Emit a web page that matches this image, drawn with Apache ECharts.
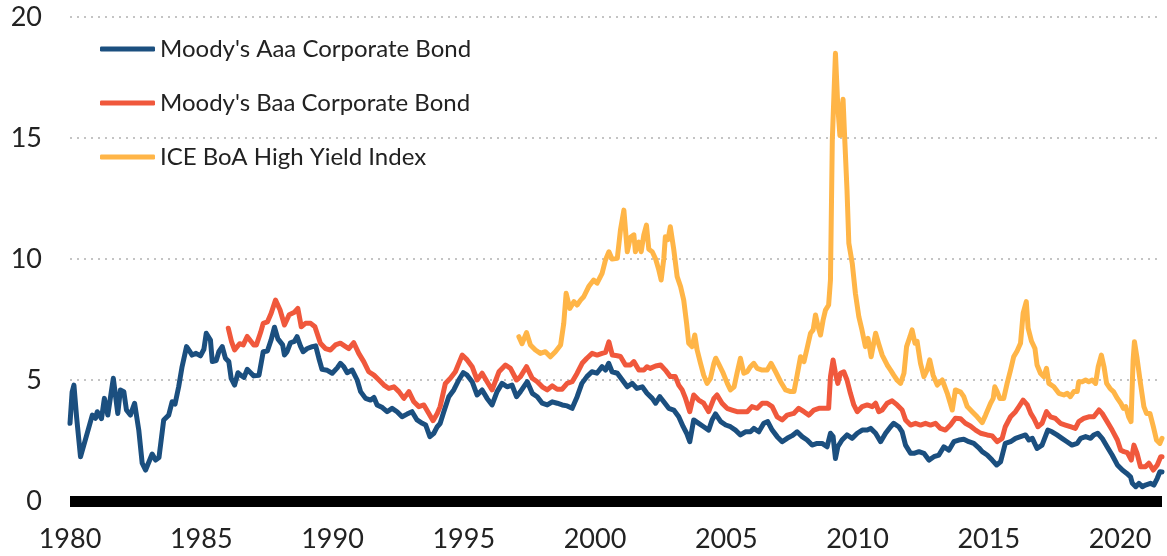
<!DOCTYPE html>
<html>
<head>
<meta charset="utf-8">
<script src="https://cdn.jsdelivr.net/npm/echarts@6/dist/echarts.min.js"></script>
<style>
html,body{margin:0;padding:0;background:#fff;}
#chart{width:1167px;height:556px;}
</style>
</head>
<body>
<div id="chart"></div>
<script>
const seriesNames = ["Moody's Aaa Corporate Bond", "Moody's Baa Corporate Bond", "ICE BoA High Yield Index"];
const xTickYears = [1980, 1985, 1990, 1995, 2000, 2005, 2010, 2015, 2020];
const yTicks = [0, 5, 10, 15, 20];

const aaaYears = [1980.0,1980.08,1980.15,1980.25,1980.4,1980.6,1980.85,1980.97,1981.04,1981.2,1981.31,1981.44,1981.65,1981.82,1981.92,1982.05,1982.15,1982.3,1982.46,1982.62,1982.75,1982.88,1983.13,1983.26,1983.39,1983.57,1983.76,1983.89,1984.0,1984.14,1984.27,1984.44,1984.55,1984.65,1984.8,1984.97,1985.1,1985.19,1985.35,1985.42,1985.57,1985.67,1985.8,1985.92,1986.05,1986.14,1986.27,1986.4,1986.5,1986.63,1986.75,1986.88,1987.0,1987.2,1987.36,1987.52,1987.66,1987.79,1987.92,1988.1,1988.17,1988.27,1988.4,1988.55,1988.65,1988.78,1988.88,1989.04,1989.23,1989.36,1989.48,1989.6,1989.8,1989.99,1990.18,1990.3,1990.43,1990.56,1990.75,1990.94,1991.07,1991.26,1991.45,1991.58,1991.7,1991.9,1992.08,1992.27,1992.46,1992.65,1992.84,1993.03,1993.22,1993.42,1993.55,1993.71,1993.86,1993.99,1994.1,1994.24,1994.43,1994.62,1994.81,1994.98,1995.13,1995.32,1995.51,1995.7,1995.89,1996.08,1996.27,1996.46,1996.65,1996.84,1997.01,1997.16,1997.42,1997.61,1997.8,1997.99,1998.18,1998.37,1998.56,1998.75,1998.94,1999.13,1999.32,1999.5,1999.69,1999.88,2000.07,2000.27,2000.4,2000.52,2000.65,2000.85,2001.04,2001.23,2001.42,2001.6,2001.8,2001.98,2002.18,2002.31,2002.47,2002.62,2002.81,2003.0,2003.19,2003.36,2003.49,2003.61,2003.76,2003.95,2004.14,2004.33,2004.46,2004.59,2004.79,2004.98,2005.16,2005.35,2005.54,2005.73,2005.92,2006.05,2006.24,2006.43,2006.58,2006.75,2006.94,2007.13,2007.32,2007.51,2007.7,2007.89,2008.08,2008.27,2008.46,2008.65,2008.84,2008.97,2009.07,2009.16,2009.25,2009.41,2009.6,2009.8,2009.99,2010.18,2010.37,2010.5,2010.69,2010.88,2011.07,2011.26,2011.38,2011.57,2011.7,2011.83,2012.02,2012.15,2012.34,2012.53,2012.72,2012.91,2013.1,2013.29,2013.48,2013.67,2013.86,2014.05,2014.24,2014.43,2014.62,2014.75,2014.94,2015.13,2015.3,2015.45,2015.63,2015.83,2016.02,2016.21,2016.4,2016.53,2016.66,2016.84,2017.03,2017.25,2017.41,2017.6,2017.79,2017.98,2018.17,2018.37,2018.5,2018.69,2018.88,2019.0,2019.15,2019.32,2019.51,2019.7,2019.9,2020.09,2020.26,2020.4,2020.47,2020.6,2020.72,2020.85,2020.97,2021.16,2021.29,2021.42,2021.52,2021.6];
const aaaValues = [3.21,4.5,4.79,3.48,1.83,2.59,3.55,3.42,3.69,3.4,4.24,3.55,5.07,3.62,4.59,4.52,3.76,3.55,4.04,2.93,1.56,1.28,1.94,1.69,1.8,3.35,3.55,4.1,4.0,4.72,5.55,6.38,6.2,6.03,6.1,6.0,6.27,6.93,6.65,5.76,5.8,6.17,6.38,5.9,5.76,5.07,4.79,5.3,5.2,5.11,5.44,5.3,5.17,5.2,6.17,6.2,6.65,7.18,6.7,6.45,6.03,6.17,6.54,6.6,6.79,6.4,6.17,6.3,6.38,6.41,5.9,5.44,5.4,5.28,5.5,5.69,5.55,5.3,5.41,5.0,4.52,4.24,4.17,4.28,3.97,3.86,3.69,3.83,3.69,3.48,3.59,3.69,3.35,3.21,3.14,2.66,2.8,3.07,3.2,3.69,4.31,4.59,5.0,5.3,5.2,4.93,4.38,4.59,4.24,3.97,4.52,4.86,4.72,4.79,4.31,4.52,4.93,4.45,4.31,4.04,3.97,4.1,4.04,3.97,3.93,3.83,4.31,4.86,5.14,5.34,5.28,5.55,5.41,5.69,5.34,5.28,5.0,4.72,4.86,4.65,4.72,4.45,4.24,4.04,4.31,4.1,3.83,3.76,3.48,3.07,2.8,2.45,3.35,3.21,3.07,2.93,3.35,3.6,3.28,3.14,3.07,2.93,2.73,2.86,2.86,3.0,2.86,3.21,3.28,2.93,2.66,2.45,2.59,2.7,2.86,2.66,2.52,2.31,2.38,2.38,2.24,2.8,2.66,1.76,2.24,2.52,2.73,2.59,2.8,2.93,2.93,3.0,2.8,2.45,2.8,3.07,3.21,3.07,2.86,2.31,1.97,1.97,2.04,1.97,1.69,1.83,1.9,2.24,2.1,2.45,2.52,2.55,2.45,2.38,2.2,2.04,1.9,1.69,1.49,1.62,2.38,2.45,2.59,2.66,2.73,2.52,2.59,2.17,2.31,2.93,2.86,2.73,2.59,2.45,2.31,2.38,2.59,2.66,2.59,2.73,2.8,2.59,2.24,1.9,1.49,1.28,1.14,1.0,0.73,0.59,0.73,0.59,0.66,0.73,0.66,0.94,1.21,1.2];

const baaYears = [1986.03,1986.15,1986.27,1986.46,1986.6,1986.75,1987.0,1987.1,1987.26,1987.36,1987.52,1987.66,1987.83,1988.0,1988.17,1988.35,1988.55,1988.68,1988.81,1988.97,1989.17,1989.33,1989.54,1989.73,1989.92,1990.11,1990.3,1990.5,1990.62,1990.81,1991.0,1991.19,1991.38,1991.58,1991.77,1991.96,1992.15,1992.34,1992.53,1992.72,1992.91,1993.1,1993.29,1993.48,1993.67,1993.83,1993.99,1994.1,1994.3,1994.49,1994.68,1994.94,1995.13,1995.32,1995.51,1995.7,1995.89,1996.08,1996.34,1996.59,1996.78,1997.01,1997.16,1997.39,1997.61,1997.8,1997.99,1998.18,1998.37,1998.56,1998.75,1998.94,1999.13,1999.32,1999.51,1999.69,1999.89,2000.08,2000.27,2000.4,2000.53,2000.66,2000.85,2000.97,2001.16,2001.35,2001.48,2001.67,2001.86,2001.98,2002.1,2002.31,2002.5,2002.68,2002.87,2003.06,2003.19,2003.32,2003.45,2003.61,2003.76,2003.95,2004.14,2004.33,2004.53,2004.65,2004.84,2005.03,2005.22,2005.41,2005.6,2005.8,2005.98,2006.18,2006.37,2006.56,2006.75,2006.94,2007.13,2007.32,2007.57,2007.76,2007.96,2008.15,2008.34,2008.53,2008.72,2008.9,2008.97,2009.07,2009.16,2009.25,2009.35,2009.48,2009.6,2009.73,2009.86,2009.99,2010.18,2010.37,2010.56,2010.69,2010.81,2010.94,2011.13,2011.32,2011.51,2011.7,2011.83,2012.02,2012.21,2012.4,2012.59,2012.78,2012.97,2013.16,2013.35,2013.54,2013.73,2013.93,2014.11,2014.3,2014.5,2014.69,2014.94,2015.13,2015.32,2015.51,2015.63,2015.83,2016.02,2016.15,2016.31,2016.47,2016.6,2016.72,2016.87,2017.03,2017.2,2017.35,2017.54,2017.73,2017.92,2018.11,2018.3,2018.43,2018.62,2018.81,2019.0,2019.2,2019.32,2019.51,2019.7,2019.9,2020.03,2020.15,2020.28,2020.43,2020.53,2020.65,2020.78,2020.97,2021.1,2021.27,2021.42,2021.55,2021.6];
const baaValues = [7.14,6.6,6.24,6.5,6.45,6.8,6.45,6.45,6.96,7.34,7.4,7.75,8.3,7.9,7.27,7.7,7.8,7.96,7.2,7.34,7.34,7.2,6.52,6.3,6.24,6.45,6.52,6.38,6.3,6.54,6.1,5.76,5.34,5.2,5.0,4.79,4.65,4.72,4.52,4.24,4.52,4.1,3.9,3.97,3.62,3.32,3.62,3.9,4.86,5.07,5.34,6.03,5.83,5.55,5.0,5.28,4.93,4.59,5.34,5.62,5.48,5.0,5.14,5.55,5.07,4.93,4.72,4.59,4.76,4.62,4.62,4.86,4.93,5.28,5.69,5.9,6.1,6.03,6.1,6.14,6.58,6.03,6.0,5.97,5.62,5.62,5.76,5.41,5.41,5.55,5.48,5.58,5.62,5.41,5.14,5.14,4.79,4.59,4.24,3.69,4.38,4.17,4.04,3.69,4.24,4.38,4.04,3.83,3.76,3.69,3.69,3.69,3.9,3.83,4.04,4.04,3.9,3.48,3.35,3.55,3.62,3.83,3.69,3.55,3.76,3.83,3.83,3.83,5.14,5.83,5.28,4.86,5.28,5.34,5.0,4.45,3.97,3.69,3.9,3.97,3.9,4.04,3.69,3.76,4.04,4.14,3.97,3.76,3.35,3.14,3.21,3.14,3.21,3.14,3.21,3.0,2.93,3.14,3.42,3.4,3.21,3.1,2.93,2.8,2.73,2.69,2.45,2.59,3.07,3.48,3.69,3.9,4.17,3.97,3.62,3.41,3.07,3.21,3.69,3.48,3.41,3.21,3.14,3.07,3.0,3.28,3.41,3.48,3.48,3.76,3.62,3.28,2.93,2.52,2.1,2.04,2.0,1.69,2.31,1.97,1.42,1.42,1.56,1.28,1.49,1.83,1.83];

const hyYears = [1997.1,1997.22,1997.39,1997.54,1997.73,1997.92,1998.11,1998.3,1998.49,1998.69,1998.81,1998.9,1999.04,1999.2,1999.32,1999.45,1999.57,1999.76,1999.95,2000.08,2000.27,2000.4,2000.53,2000.65,2000.85,2000.97,2001.1,2001.23,2001.35,2001.48,2001.54,2001.67,2001.76,2001.86,2001.96,2002.05,2002.18,2002.31,2002.43,2002.52,2002.62,2002.68,2002.78,2002.87,2003.0,2003.13,2003.26,2003.38,2003.49,2003.57,2003.7,2003.8,2003.89,2004.02,2004.14,2004.27,2004.4,2004.53,2004.6,2004.73,2004.86,2005.04,2005.16,2005.3,2005.41,2005.54,2005.67,2005.8,2005.92,2006.05,2006.18,2006.37,2006.56,2006.71,2006.88,2007.07,2007.26,2007.45,2007.58,2007.7,2007.83,2007.96,2008.08,2008.21,2008.31,2008.4,2008.5,2008.59,2008.69,2008.78,2008.9,2008.97,2009.04,2009.1,2009.16,2009.25,2009.33,2009.39,2009.45,2009.5,2009.6,2009.67,2009.8,2009.92,2010.05,2010.17,2010.3,2010.4,2010.52,2010.69,2010.8,2010.94,2011.13,2011.26,2011.38,2011.51,2011.64,2011.77,2011.87,2012.0,2012.08,2012.19,2012.27,2012.4,2012.53,2012.65,2012.75,2012.88,2013.04,2013.23,2013.42,2013.61,2013.73,2013.93,2014.05,2014.18,2014.37,2014.56,2014.75,2014.88,2015.07,2015.17,2015.23,2015.32,2015.42,2015.57,2015.7,2015.83,2015.95,2016.08,2016.21,2016.31,2016.43,2016.5,2016.63,2016.76,2016.84,2016.97,2017.1,2017.2,2017.29,2017.48,2017.67,2017.86,2017.99,2018.11,2018.24,2018.37,2018.43,2018.56,2018.69,2018.81,2018.94,2019.07,2019.17,2019.29,2019.39,2019.49,2019.62,2019.75,2019.9,2020.03,2020.13,2020.22,2020.33,2020.42,2020.5,2020.55,2020.65,2020.78,2020.91,2021.01,2021.14,2021.27,2021.39,2021.52,2021.6];
const hyValues = [6.79,6.5,6.96,6.45,6.24,6.1,6.17,5.96,6.17,6.45,7.34,8.58,7.96,8.24,8.1,8.3,8.44,8.86,9.13,9.0,9.41,9.96,10.3,10.0,10.03,11.2,12.02,10.3,10.9,11.0,10.3,10.7,10.3,11.0,11.4,10.4,10.3,10.0,9.55,9.13,10.0,10.92,10.8,11.33,10.4,9.27,8.86,8.3,7.34,6.52,6.38,6.86,6.24,5.69,5.2,4.86,5.07,5.69,5.9,5.62,5.34,4.86,4.59,4.72,5.28,5.9,5.28,5.34,5.55,5.69,5.48,5.41,5.41,5.69,5.34,4.93,4.59,4.52,4.52,5.2,5.96,5.76,6.31,6.93,7.07,7.69,7.2,6.86,7.48,7.89,8.1,9.13,14.9,16.7,18.5,16.3,15.1,16.0,16.6,15.3,12.85,10.65,9.82,8.58,7.62,7.07,6.38,6.72,5.96,6.93,6.52,6.03,5.62,5.41,5.2,4.99,4.86,5.28,6.38,6.79,7.07,6.52,6.6,5.69,5.14,5.41,5.83,5.2,4.79,5.0,4.45,3.76,4.59,4.5,4.31,3.9,3.69,3.48,3.24,3.55,4.04,4.24,4.72,4.52,4.24,4.24,4.86,5.41,5.96,6.2,6.52,7.76,8.24,7.14,6.6,6.3,5.62,5.28,5.14,5.48,4.86,4.72,4.45,4.38,4.45,4.31,4.52,4.52,4.93,4.93,5.0,4.93,5.0,4.86,5.55,6.03,5.55,4.86,4.65,4.52,4.24,4.04,3.83,3.9,3.48,3.28,5.83,6.58,5.9,4.86,3.9,3.62,3.62,3.07,2.52,2.38,2.59];

const colors = ['#1b4f7f', '#f0583c', '#ffb547'];

function zip(xs, ys) { return xs.map((x, i) => [x, ys[i]]); }

const chart = echarts.init(document.getElementById('chart'), null, {renderer: 'canvas'});
const mkSeries = (name, xs, ys, color) => ({
  name: name, type: 'line', data: zip(xs, ys), showSymbol: false, symbol: 'none',
  smooth: false, lineStyle: {color: color, width: 5, join: 'round', cap: 'round'},
  itemStyle: {color: color}, animation: false
});

chart.setOption({
  animation: false,
  backgroundColor: '#fff',
  textStyle: {fontFamily: 'Lato'},
  grid: {left: 70, right: 5, top: 17, bottom: 55},
  legend: {
    orient: 'vertical', left: 100, top: 37, padding: 0,
    icon: 'roundRect', itemWidth: 55, itemHeight: 5, itemGap: 30,
    textStyle: {fontFamily: 'Lato', fontSize: 24, color: '#222', lineHeight: 24, padding: [0,0,0,0]},
    data: seriesNames
  },
  xAxis: {
    type: 'value', min: 1980, max: 2021.6, interval: 5, offset: 5,
    axisLine: {show: true, lineStyle: {color: '#000', width: 11, cap: 'butt'}},
    axisTick: {show: false},
    splitLine: {show: false},
    axisLabel: {
      fontFamily: 'Lato', fontSize: 27, color: '#222', margin: 20,
      showMaxLabel: false,
      formatter: v => xTickYears.includes(Math.round(v)) && Math.abs(v - Math.round(v)) < 1e-6 ? String(Math.round(v)) : ''
    }
  },
  yAxis: {
    type: 'value', min: yTicks[0], max: yTicks[yTicks.length - 1], interval: 5,
    axisLine: {show: false}, axisTick: {show: false},
    axisLabel: {fontFamily: 'Lato', fontSize: 27, color: '#222', margin: 28},
    splitLine: {show: true, lineStyle: {color: '#c4c4c4', width: 2, type: [2, 5]}}
  },
  series: [
    mkSeries(seriesNames[0], aaaYears, aaaValues, colors[0]),
    mkSeries(seriesNames[1], baaYears, baaValues, colors[1]),
    mkSeries(seriesNames[2], hyYears, hyValues, colors[2])
  ]
});
</script>
</body>
</html>
